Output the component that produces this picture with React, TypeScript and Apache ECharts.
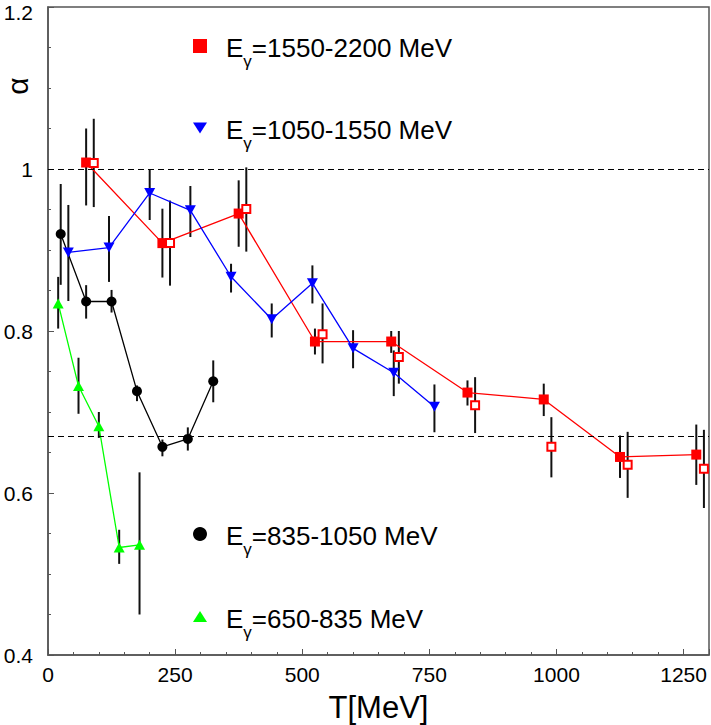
import React, { useEffect, useRef } from "react";
import * as echarts from "echarts";

// ---- data ----
const redT = [75, 225, 375, 525, 675, 825, 975, 1125, 1275];
const redA = [1.008, 0.9085, 0.945, 0.787, 0.787, 0.724, 0.7155, 0.6445, 0.6474];
const redLo = [0.955, 0.866, 0.904, 0.771, 0.773, 0.708, 0.695, 0.6186, 0.61];
const redHi = [1.05, 0.951, 0.986, 0.803, 0.8, 0.739, 0.735, 0.671, 0.6845];

const redOpenT = [90, 240, 390, 540, 690, 840, 990, 1140, 1290];
const redOpenA = [1.0075, 0.9085, 0.9506, 0.796, 0.768, 0.7084, 0.657, 0.635, 0.63];
const redOpenLo = [0.953, 0.856, 0.898, 0.76, 0.735, 0.674, 0.6193, 0.594, 0.5815];
const redOpenHi = [1.062, 0.961, 1.002, 0.834, 0.8, 0.743, 0.6936, 0.6755, 0.678];

const blueT = [40, 120, 200, 280, 360, 440, 520, 600, 680, 760];
const blueA = [0.897, 0.903, 0.9704, 0.949, 0.867, 0.8145, 0.859, 0.7786, 0.7485, 0.7064];
const blueLo = [0.837, 0.8606, 0.937, 0.916, 0.8475, 0.792, 0.834, 0.754, 0.7196, 0.675];
const blueHi = [0.9556, 0.942, 1.0, 0.979, 0.883, 0.834, 0.881, 0.801, 0.776, 0.734];

const blackT = [25, 75, 125, 175, 225, 275, 325];
const blackA = [0.9197, 0.8364, 0.8364, 0.7257, 0.657, 0.6668, 0.738];
const blackLo = [0.857, 0.8153, 0.8228, 0.7134, 0.6453, 0.6524, 0.712];
const blackHi = [0.9815, 0.8566, 0.8507, 0.7328, 0.666, 0.681, 0.7637];

const greenT = [20, 60, 100, 140, 180];
const greenA = [0.834, 0.732, 0.6824, 0.5327, 0.536];
const greenLo = [0.803, 0.6978, 0.668, 0.5125, 0.45];
const greenHi = [0.8668, 0.767, 0.7, 0.5546, 0.6255];

const xRange = [0, 1300];
const xStep = 250;
const yRange = [0.4, 1.2];
const yStep = 0.2;
const refLines = [1, 2 / 3];

const legendNames = ["1550-2200", "1050-1550", "835-1050", "650-835"];
const xTitle = "T[MeV]";
const yTitle = "α";

const FONT = "Liberation Sans, Arial, Helvetica, sans-serif";

function pairs(t: number[], a: number[]) {
  return t.map((v, i) => [v, a[i]]);
}
function bars(t: number[], lo: number[], hi: number[]) {
  return t.map((v, i) => [v, lo[i], hi[i]]);
}

function errSeries(id: string, data: number[][]) {
  return {
    id,
    type: "custom",
    data,
    encode: { x: 0, y: [1, 2] },
    z: 1,
    silent: true,
    renderItem: (params: any, api: any) => {
      const p1 = api.coord([api.value(0), api.value(1)]);
      const p2 = api.coord([api.value(0), api.value(2)]);
      return {
        type: "line",
        shape: { x1: p1[0], y1: p1[1], x2: p2[0], y2: p2[1] },
        style: { stroke: "#111", lineWidth: 2 },
      };
    },
  };
}

function legendLabel(range: string) {
  return `{e|E}{s|γ}{a|=${range} MeV}`;
}

const FS = 26;

function makeLegend(name: string, icon: string, top: number, w: number, h: number) {
  const base = { fontSize: FS, lineHeight: 40, verticalAlign: "top", fontFamily: FONT, color: "#000" };
  return {
    data: [{ name, icon }],
    left: 193,
    top,
    padding: 0,
    itemWidth: w,
    itemHeight: h,
    selectedMode: false,
    formatter: (n: string) => legendLabel(n),
    textStyle: {
      color: "#000",
      fontFamily: FONT,
      fontSize: FS,
      rich: {
        e: { ...base, padding: [9, 0, 0, 14] },
        a: { ...base, padding: [9, 0, 0, 0] },
        s: {
          fontSize: 17,
          lineHeight: 17,
          padding: [27, 0, 0, 0],
          verticalAlign: "top",
          fontFamily: FONT,
          color: "#000",
        },
      },
    },
  };
}

export default function App() {
  const ref = useRef<HTMLDivElement>(null);
  useEffect(() => {
    document.body.style.margin = "0";
    if (!ref.current) return;
    const chart = echarts.init(ref.current, undefined, { renderer: "svg" });
    const axisColor = "#555";
    chart.setOption({
      animation: false,
      backgroundColor: "#fff",
      grid: {
        left: 48,
        right: 2,
        top: 7,
        bottom: 70,
        show: true,
        borderColor: axisColor,
        borderWidth: 1.5,
        containLabel: false,
        outerBoundsMode: "none",
      },
      xAxis: {
        type: "value",
        min: xRange[0],
        max: xRange[1],
        interval: xStep,
        name: xTitle,
        nameLocation: "middle",
        nameGap: 37,
        nameTextStyle: { fontFamily: FONT, fontSize: 31, color: "#000" },
        axisLine: { show: true, lineStyle: { color: axisColor, width: 1.5 } },
        axisTick: { show: true, inside: true, length: 6, lineStyle: { color: axisColor } },
        minorTick: { show: true, splitNumber: 5, length: 3, lineStyle: { color: axisColor } },
        splitLine: { show: false },
        axisLabel: {
          fontFamily: FONT,
          fontSize: 21,
          color: "#000",
          margin: 9,
          showMaxLabel: false,
          formatter: (v: number) => String(v),
        },
      },
      yAxis: {
        type: "value",
        min: yRange[0],
        max: yRange[1],
        interval: yStep,
        axisLine: { show: true, lineStyle: { color: axisColor, width: 1.5 } },
        axisTick: { show: true, inside: true, length: 6, lineStyle: { color: axisColor } },
        minorTick: { show: true, splitNumber: 4, length: 3, lineStyle: { color: axisColor } },
        splitLine: { show: false },
        axisLabel: {
          fontFamily: FONT,
          fontSize: 21,
          color: "#000",
          margin: 15,
          formatter: (v: number) => {
            const s = String(Math.round(v * 10) / 10);
            return v >= yRange[1] - 1e-6 ? `{t|${s}}` : s;
          },
          rich: {
            t: { fontFamily: FONT, fontSize: 21, color: "#000", padding: [10, 0, 0, 0] },
          },
        },
      },
      legend: [
        makeLegend(legendNames[0], "rect", 26, 14, 14),
        makeLegend(legendNames[1], "path://M0,0L20,0L10,16Z", 108, 14, 12),
        makeLegend(legendNames[2], "circle", 514, 14, 14),
        makeLegend(legendNames[3], "triangle", 596.5, 14, 11),
      ],
      graphic: [
        {
          type: "text",
          x: 17,
          y: 86,
          rotation: Math.PI / 2,
          style: {
            text: yTitle,
            fontFamily: FONT,
            fontSize: 30,
            fill: "#000",
            textAlign: "center",
            textVerticalAlign: "middle",
          },
        },
      ],
      series: [
        errSeries("errRed", bars(redT, redLo, redHi)),
        errSeries("errRedOpen", bars(redOpenT, redOpenLo, redOpenHi)),
        errSeries("errBlue", bars(blueT, blueLo, blueHi)),
        errSeries("errBlack", bars(blackT, blackLo, blackHi)),
        errSeries("errGreen", bars(greenT, greenLo, greenHi)),
        {
          name: legendNames[0],
          type: "line",
          data: pairs(redT, redA),
          symbol: "rect",
          symbolSize: 10,
          lineStyle: { color: "#ff0000", width: 1.3 },
          itemStyle: { color: "#ff0000" },
          z: 3,
          markLine: {
            silent: true,
            symbol: "none",
            label: { show: false },
            lineStyle: { type: [6, 4], color: "#000", width: 1.2 },
            data: refLines.map((v) => ({ yAxis: v })),
          },
        },
        {
          name: "open",
          type: "scatter",
          data: pairs(redOpenT, redOpenA),
          symbol: "rect",
          symbolSize: 8,
          itemStyle: { color: "#fff", borderColor: "#ff0000", borderWidth: 2, opacity: 1 },
          z: 3,
        },
        {
          name: legendNames[1],
          type: "line",
          data: pairs(blueT, blueA),
          symbol: "triangle",
          symbolRotate: 180,
          symbolSize: [11, 10],
          lineStyle: { color: "#0000ff", width: 1.3 },
          itemStyle: { color: "#0000ff" },
          z: 3,
        },
        {
          name: legendNames[2],
          type: "line",
          data: pairs(blackT, blackA),
          symbol: "circle",
          symbolSize: 10,
          lineStyle: { color: "#000", width: 1.3 },
          itemStyle: { color: "#000" },
          z: 3,
        },
        {
          name: legendNames[3],
          type: "line",
          data: pairs(greenT, greenA),
          symbol: "triangle",
          symbolSize: [11, 10],
          lineStyle: { color: "#00ff00", width: 1.3 },
          itemStyle: { color: "#00ff00" },
          z: 3,
        },
      ],
    });
    return () => chart.dispose();
  }, []);
  return <div ref={ref} style={{ width: 711, height: 725 }} />;
}
